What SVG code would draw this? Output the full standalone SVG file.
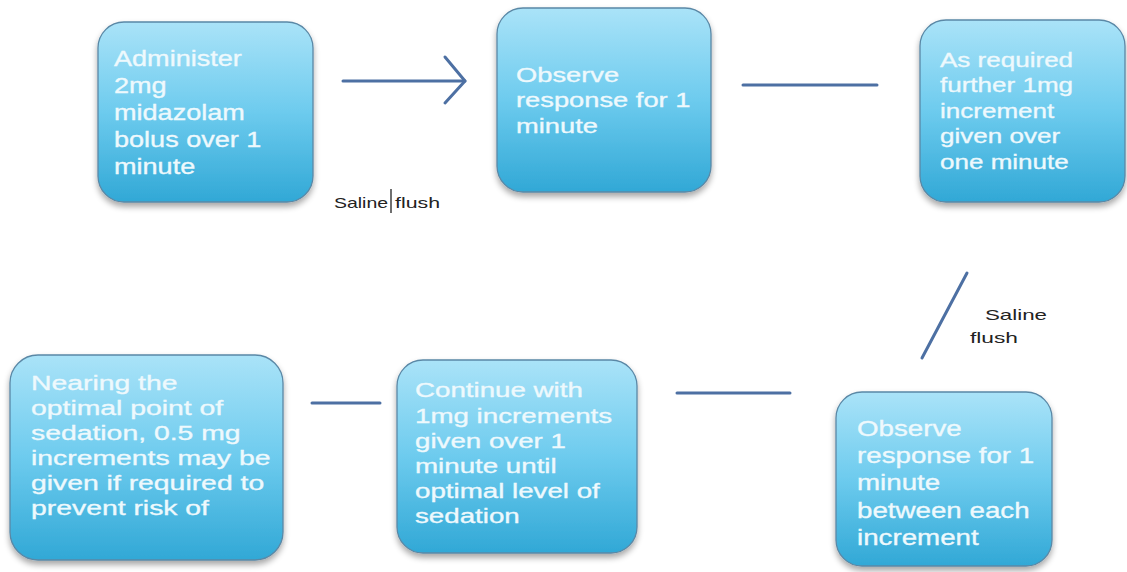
<svg xmlns="http://www.w3.org/2000/svg" width="1127" height="572" viewBox="0 0 1127 572">
<defs>
<linearGradient id="g" x1="0" y1="0" x2="0" y2="1">
<stop offset="0" stop-color="#aae3f8"/>
<stop offset="0.5" stop-color="#6dcbee"/>
<stop offset="1" stop-color="#31a8d6"/>
</linearGradient>
<filter id="sh" x="-10%" y="-10%" width="120%" height="125%">
<feGaussianBlur in="SourceAlpha" stdDeviation="3"/>
<feOffset dx="0" dy="4" result="b"/>
<feComponentTransfer><feFuncA type="linear" slope="0.35"/></feComponentTransfer>
<feMerge><feMergeNode/><feMergeNode in="SourceGraphic"/></feMerge>
</filter>
</defs>
<style>
.box{fill:url(#g);stroke:#5a88a6;stroke-width:1.3;filter:url(#sh)}
.t{font-family:"Liberation Sans",Arial,sans-serif;fill:#eef9fd;stroke:#eef9fd;stroke-width:0.35}
.c{stroke:#4d70a3;stroke-width:3;fill:none;stroke-linecap:round;stroke-linejoin:round}
.lbl{font-family:"Liberation Sans",Arial,sans-serif;font-size:15px;fill:#222}
</style>
<g id="connectors">
<line class="c" x1="343" y1="81" x2="465" y2="81"/>
<polyline class="c" points="445,57 465,81 445,103"/>
<line class="c" x1="743" y1="85" x2="877" y2="85"/>
<line class="c" x1="967" y1="273" x2="922" y2="358"/>
<line class="c" x1="677" y1="393" x2="790" y2="393"/>
<line class="c" x1="312" y1="403" x2="380" y2="403"/>
</g>
<g id="labels">
<text class="lbl" x="334" y="208" textLength="54" lengthAdjust="spacingAndGlyphs">Saline</text>
<line x1="391" y1="189" x2="391" y2="213" stroke="#222" stroke-width="1.3"/>
<text class="lbl" x="395" y="208" textLength="45" lengthAdjust="spacingAndGlyphs">flush</text>
<text class="lbl" x="985" y="320" textLength="62" lengthAdjust="spacingAndGlyphs">Saline</text>
<text class="lbl" x="970" y="343" textLength="48" lengthAdjust="spacingAndGlyphs">flush</text>
</g>
<g id="n1">
<rect class="box" x="98" y="22" width="215" height="180" rx="26"/>
<g transform="translate(114 0) scale(1.23 1)" class="t" font-size="22">
<text x="0" y="66">Administer</text>
<text x="0" y="93">2mg</text>
<text x="0" y="120">midazolam</text>
<text x="0" y="147">bolus over 1</text>
<text x="0" y="174">minute</text>
</g>
</g>
<g id="n2">
<rect class="box" x="497" y="8" width="214" height="184" rx="26"/>
<g transform="translate(516 0) scale(1.3 1)" class="t" font-size="21">
<text x="0" y="82">Observe</text>
<text x="0" y="107">response for 1</text>
<text x="0" y="133">minute</text>
</g>
</g>
<g id="n3">
<rect class="box" x="920" y="20" width="205" height="182" rx="26"/>
<g transform="translate(940 0) scale(1.24 1)" class="t" font-size="21">
<text x="0" y="67">As required</text>
<text x="0" y="92">further 1mg</text>
<text x="0" y="118">increment</text>
<text x="0" y="143">given over</text>
<text x="0" y="169">one minute</text>
</g>
</g>
<g id="n4">
<rect class="box" x="836" y="392" width="216" height="174" rx="26"/>
<g transform="translate(857 0) scale(1.26 1)" class="t" font-size="22">
<text x="0" y="436">Observe</text>
<text x="0" y="463">response for 1</text>
<text x="0" y="490">minute</text>
<text x="0" y="518">between each</text>
<text x="0" y="545">increment</text>
</g>
</g>
<g id="n5">
<rect class="box" x="397" y="360" width="240" height="193" rx="26"/>
<g transform="translate(415 0) scale(1.32 1)" class="t" font-size="21">
<text x="0" y="397">Continue with</text>
<text x="0" y="423">1mg increments</text>
<text x="0" y="448">given over 1</text>
<text x="0" y="473">minute until</text>
<text x="0" y="498">optimal level of</text>
<text x="0" y="523">sedation</text>
</g>
</g>
<g id="n6">
<rect class="box" x="10" y="355" width="273" height="205" rx="28"/>
<g transform="translate(31 0) scale(1.35 1)" class="t" font-size="21">
<text x="0" y="390">Nearing the</text>
<text x="0" y="415">optimal point of</text>
<text x="0" y="440">sedation, 0.5 mg</text>
<text x="0" y="465">increments may be</text>
<text x="0" y="490">given if required to</text>
<text x="0" y="515">prevent risk of</text>
</g>
</g>
</svg>
